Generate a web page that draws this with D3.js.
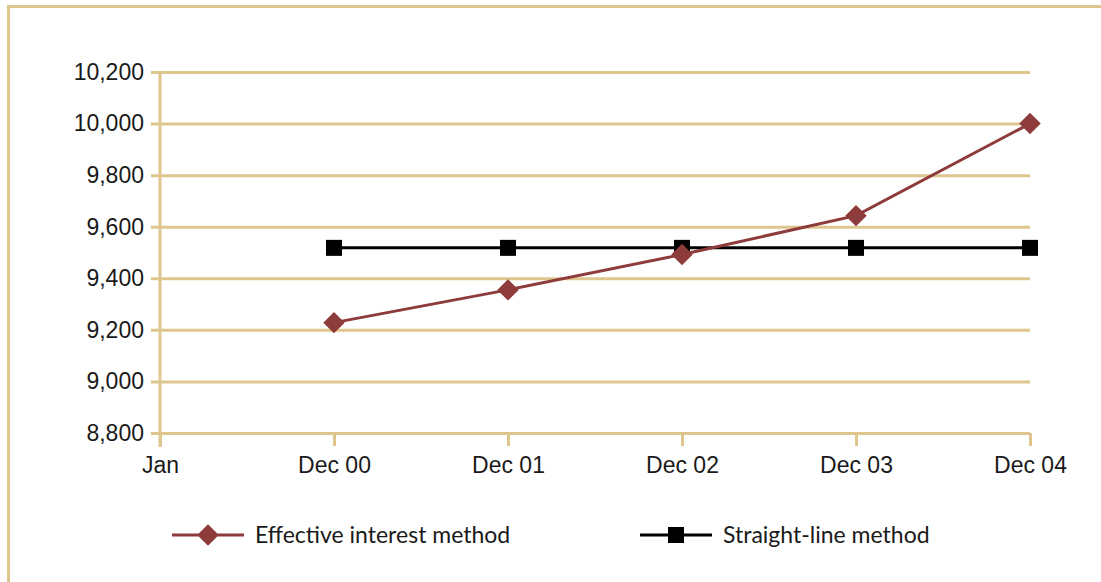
<!DOCTYPE html>
<html>
<head>
<meta charset="utf-8">
<script src="https://cdn.jsdelivr.net/npm/d3@7"></script>
<style>
  html, body { margin: 0; padding: 0; background: #fff; }
  svg { display: block; font-family: Lato, "Open Sans", sans-serif; }
</style>
</head>
<body>
<svg id="chart" width="1101" height="582"></svg>
<script>
// Period labels along the x axis ("Jan" is the starting point, no value)
const categories = ["Jan", "Dec 00", "Dec 01", "Dec 02", "Dec 03", "Dec 04"];
const seriesNames = ["Effective interest method", "Straight-line method"];
// Carrying amounts per period end
const effectiveValues = [null, 9228, 9355, 9492, 9643, 10000];
const straightValues  = [null, 9518, 9518, 9518, 9518, 9518];
const yTicks = [8800, 9000, 9200, 9400, 9600, 9800, 10000, 10200];

const tan = "#dfc68f";
const red = "#8e3b3b";
const black = "#000";
const textColor = "#1a1a1a";
const fontSize = "23px";

const svg = d3.select("#chart");

// frame
svg.append("line").attr("x1", 7).attr("x2", 1101).attr("y1", 6.5).attr("y2", 6.5)
  .attr("stroke", tan).attr("stroke-width", 3);
svg.append("line").attr("x1", 8.5).attr("x2", 8.5).attr("y1", 5).attr("y2", 582)
  .attr("stroke", tan).attr("stroke-width", 3);

const x = d3.scalePoint().domain(categories).range([160, 1030]);
const y = d3.scaleLinear().domain([8800, 10200]).range([433, 72]);

// horizontal gridlines with outward ticks
const gy = svg.append("g").attr("transform", "translate(160,0)")
  .call(d3.axisLeft(y).tickValues(yTicks).tickSize(-870).tickSizeOuter(0)
    .tickFormat(d3.format(",")).tickPadding(16));
gy.select(".domain").remove();
gy.selectAll(".tick line").attr("x1", -9).attr("x2", 870)
  .attr("stroke", tan).attr("stroke-width", 3);
gy.selectAll(".tick text").attr("fill", textColor).style("font-size", fontSize);

// vertical axis line
svg.append("line").attr("x1", 160).attr("x2", 160).attr("y1", 71).attr("y2", 447)
  .attr("stroke", tan).attr("stroke-width", 3);

// x axis ticks and labels
const gx = svg.append("g").attr("transform", "translate(0,433)")
  .call(d3.axisBottom(x).tickSize(13).tickSizeOuter(0).tickPadding(11));
gx.select(".domain").remove();
gx.selectAll(".tick line").attr("stroke", tan).attr("stroke-width", 3);
gx.selectAll(".tick text").attr("fill", textColor).style("font-size", fontSize);

// series
const line = d3.line()
  .defined(d => d.v != null)
  .x(d => x(d.c)).y(d => y(d.v));

const toPts = vals => categories.map((c, i) => ({ c, v: vals[i] }));
const straightPts = toPts(straightValues);
const effectivePts = toPts(effectiveValues);

svg.append("path").datum(straightPts).attr("d", line)
  .attr("fill", "none").attr("stroke", black).attr("stroke-width", 3);
svg.append("g").selectAll("rect").data(straightPts.filter(d => d.v != null)).join("rect")
  .attr("x", d => x(d.c) - 8).attr("y", d => y(d.v) - 8)
  .attr("width", 16).attr("height", 16).attr("fill", black);

svg.append("path").datum(effectivePts).attr("d", line)
  .attr("fill", "none").attr("stroke", red).attr("stroke-width", 3);
const diamond = d3.symbol().type(d3.symbolSquare).size(230);
svg.append("g").selectAll("path").data(effectivePts.filter(d => d.v != null)).join("path")
  .attr("d", diamond)
  .attr("transform", d => `translate(${x(d.c)},${y(d.v)}) rotate(45)`)
  .attr("fill", red);

// legend
const legend = [
  { name: seriesNames[0], color: red, x0: 172, kind: "diamond" },
  { name: seriesNames[1], color: black, x0: 640, kind: "square" }
];
const ly = 535;
legend.forEach(l => {
  const g = svg.append("g");
  g.append("line").attr("x1", l.x0).attr("x2", l.x0 + 72).attr("y1", ly).attr("y2", ly)
    .attr("stroke", l.color).attr("stroke-width", 3);
  if (l.kind === "diamond") {
    g.append("path").attr("d", diamond)
      .attr("transform", `translate(${l.x0 + 36},${ly}) rotate(45)`).attr("fill", l.color);
  } else {
    g.append("rect").attr("x", l.x0 + 28).attr("y", ly - 8).attr("width", 16).attr("height", 16)
      .attr("fill", l.color);
  }
  g.append("text").attr("x", l.x0 + 83).attr("y", ly).attr("dy", "0.35em")
    .attr("fill", textColor).style("font-size", fontSize).text(l.name);
});
</script>
</body>
</html>
